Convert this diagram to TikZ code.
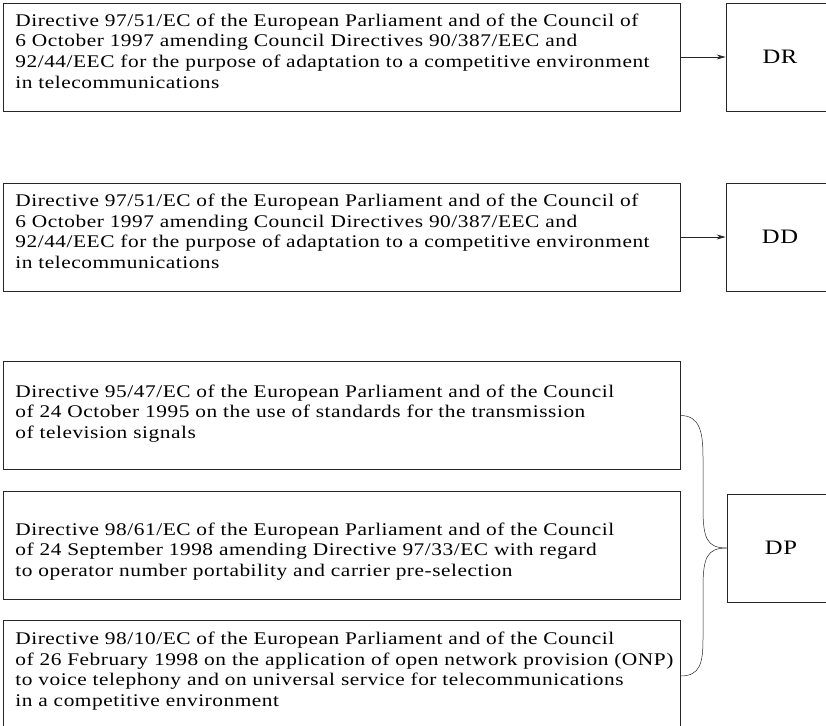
\documentclass[tikz,border=0pt]{standalone}
\usepackage{fontspec}
\setmainfont{Liberation Serif}[FakeStretch=1.2,LetterSpace=3]
\usetikzlibrary{arrows.meta}
\begin{document}
\begin{tikzpicture}[x=1pt,y=-1pt,>={Stealth[length=9pt,width=5pt]},
    line width=0.7pt,draw=black!85,
    docbox/.style={draw,rectangle,minimum width=677pt,minimum height=108pt,inner sep=0pt},
    keybox/.style={draw,rectangle,minimum width=108pt,minimum height=108pt,
        font=\fontsize{20.5}{22}\selectfont},
    doctext/.style={anchor=base west,align=left,inner sep=0pt,
        font=\fontsize{17.8}{20.5}\selectfont}]
    \useasboundingbox (0,0) rectangle (826,725);
    \clip (0,0) rectangle (826,725);

    % Top row: DR.
    \node[docbox] (b1) at (341.5,57) {};
    \node[doctext] (t1) at (15,88)
        {Directive 97/51/EC of the European Parliament and of the Council of\\
         6 October 1997 amending Council Directives 90/387/EEC and\\
         92/44/EEC for the purpose of adaptation to a competitive environment\\
         in telecommunications};
    \node[keybox] (dr) at (780,57) {DR};
    \draw[->] (b1) -- (dr);

    % Middle row: DD.
    \node[docbox] (b2) at (341.5,237) {};
    \node[doctext] (t2) at (15,268)
        {Directive 97/51/EC of the European Parliament and of the Council of\\
         6 October 1997 amending Council Directives 90/387/EEC and\\
         92/44/EEC for the purpose of adaptation to a competitive environment\\
         in telecommunications};
    \node[keybox] (dd) at (780,237) {DD};
    \draw[->] (b2) -- (dd);

    % Bottom group: DP.
    \node[docbox] (b3) at (341.5,415.5) {};
    \node[doctext] (t3) at (15,438)
        {Directive 95/47/EC of the European Parliament and of the Council\\
         of 24 October 1995 on the use of standards for the transmission\\
         of television signals};
    \node[docbox] (b4) at (341.5,545.5) {};
    \node[doctext] (t4) at (15,576)
        {Directive 98/61/EC of the European Parliament and of the Council\\
         of 24 September 1998 amending Directive 97/33/EC with regard\\
         to operator number portability and carrier pre-selection};
    \node[docbox,minimum height=112pt] (b5) at (341.5,676) {};
    \node[doctext] (t5) at (15,706)
        {Directive 98/10/EC of the European Parliament and of the Council\\
         of 26 February 1998 on the application of open network provision (ONP)\\
         to voice telephony and on universal service for telecommunications\\
         in a competitive environment};
    \node[keybox] (dp) at (781,548) {DP};

    \coordinate (ua) at (703,458);
    \coordinate (ub) at (703,508);
    \coordinate (la) at (703,638);
    \coordinate (lb) at (703,588);
    \draw[line width=0.5pt] (b3.east) .. controls +(20,0) and +(0,-25) .. (ua) -- (ub)
        .. controls +(0,30) and +(-20,0) .. (dp.west);
    \draw[line width=0.5pt] (b5.east) .. controls +(20,0) and +(0,25) .. (la) -- (lb)
        .. controls +(0,-30) and +(-20,0) .. (dp.west);
\end{tikzpicture}
\end{document}
